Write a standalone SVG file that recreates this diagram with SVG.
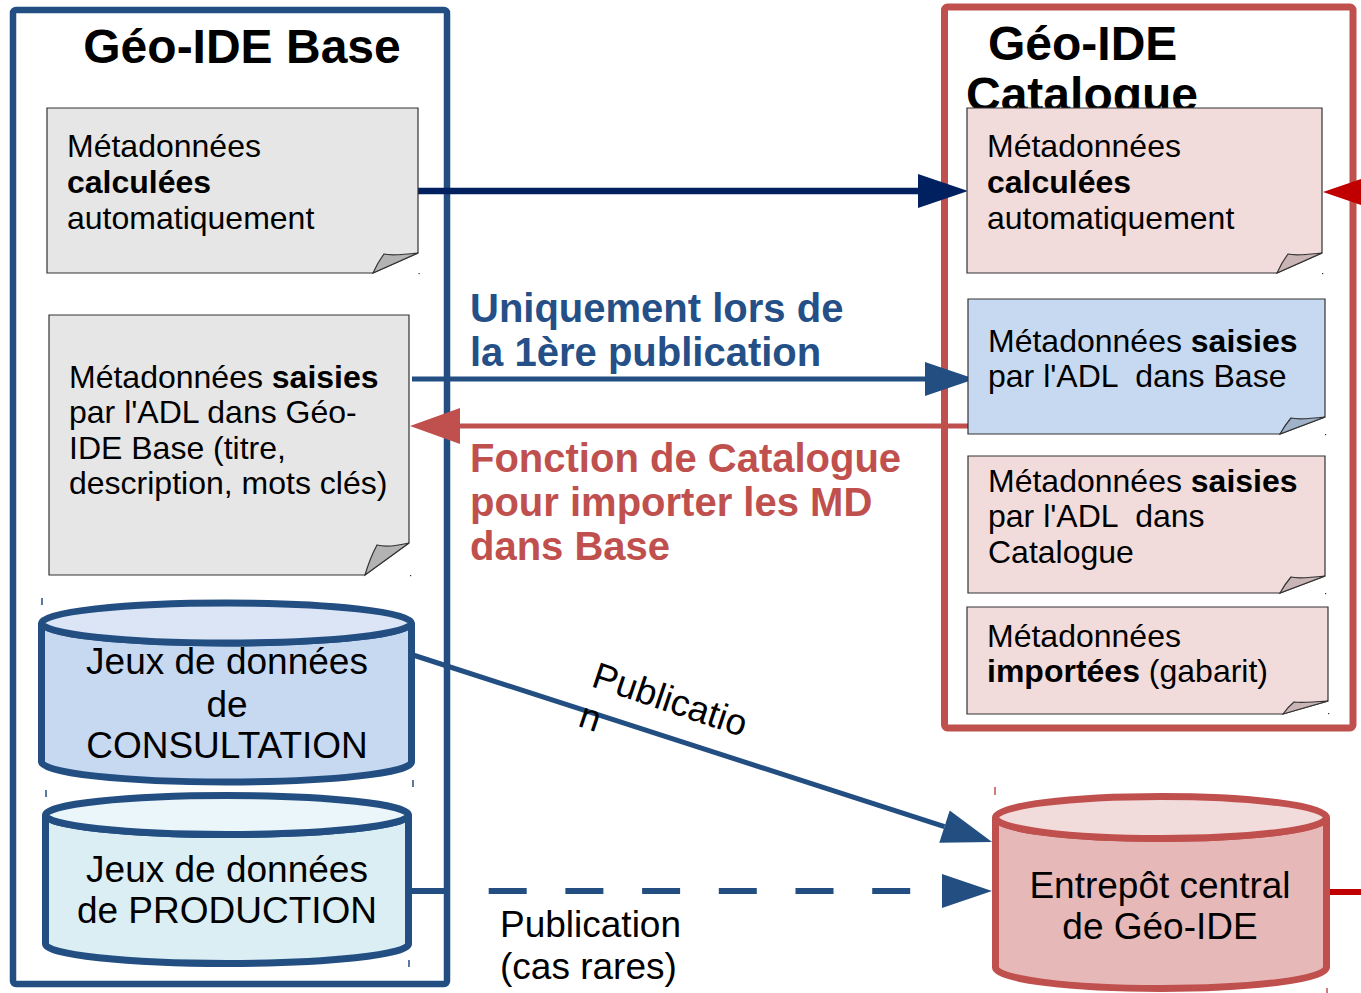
<svg xmlns="http://www.w3.org/2000/svg" width="1361" height="993" viewBox="0 0 1361 993">
<style>
text{font-family:"Liberation Sans",Arial,sans-serif;fill:#000}
.title{font-size:48px;font-weight:bold}
.nt{font-size:32px}
.b{font-weight:bold}
.cy{font-size:37px;text-anchor:middle}
.lbl{font-size:40px;font-weight:bold}
.note{stroke:#333;stroke-width:1.2}
.flap{stroke:#333;stroke-width:1.2}
.grey{fill:#e6e6e6}
.pink{fill:#f2dcdb}
.blue{fill:#c6d9f1}
.cb{stroke:#234e82;stroke-width:7}
.cr{stroke:#c0504d;stroke-width:7}
.tick{stroke-width:1.5}
</style>
<defs>
<marker id="hNavy" markerUnits="userSpaceOnUse" markerWidth="52" markerHeight="36" refX="0" refY="17" orient="auto" overflow="visible"><path d="M0,0 L50,17 L0,34 Z" fill="#002060"/></marker>
<marker id="hBlue" markerUnits="userSpaceOnUse" markerWidth="52" markerHeight="36" refX="0" refY="17" orient="auto" overflow="visible"><path d="M0,0 L50,17 L0,34 Z" fill="#234e82"/></marker>
<marker id="hRed" markerUnits="userSpaceOnUse" markerWidth="52" markerHeight="38" refX="0" refY="18" orient="auto" overflow="visible"><path d="M0,0 L50,18 L0,36 Z" fill="#c0504d"/></marker>
<marker id="hDark" markerUnits="userSpaceOnUse" markerWidth="52" markerHeight="36" refX="0" refY="17" orient="auto" overflow="visible"><path d="M0,0 L50,17 L0,34 Z" fill="#c00000"/></marker>
</defs>
<rect width="1361" height="993" fill="#fff"/>

<g id="container-base">
<rect x="13" y="10" width="434" height="974" rx="3" fill="none" stroke="#234e82" stroke-width="6.5"/>
<text class="title" x="242" y="63" text-anchor="middle">Géo-IDE Base</text>
</g>
<g id="container-catalogue">
<rect x="944.5" y="7" width="408.5" height="721" rx="3" fill="none" stroke="#c0504d" stroke-width="7"/>
<text class="title" x="988" y="60">Géo-IDE</text>
<text class="title" x="966" y="111">Catalogue</text>
</g>

<g id="connectors">
<line x1="418" y1="191" x2="918" y2="191" stroke="#002060" stroke-width="6.5" marker-end="url(#hNavy)"/>
<line x1="1400" y1="192" x2="1373" y2="192" stroke="#c00000" stroke-width="6" marker-end="url(#hDark)"/>
<line x1="412" y1="379" x2="925" y2="379" stroke="#234e82" stroke-width="5" marker-end="url(#hBlue)"/>
<line x1="968" y1="426" x2="460" y2="426" stroke="#c0504d" stroke-width="5" marker-end="url(#hRed)"/>
<line x1="413" y1="655" x2="944.5" y2="826.6" stroke="#234e82" stroke-width="5" marker-end="url(#hBlue)"/>
<line x1="412" y1="891" x2="942" y2="891" stroke="#234e82" stroke-width="6" stroke-dasharray="38 38.7" marker-end="url(#hBlue)"/>
<line x1="1328" y1="892" x2="1361" y2="892" stroke="#c00000" stroke-width="6"/>
</g>

<g id="note-base-calc">
<path class="note grey" d="M47,108 H418 V253 L373,273 H47 Z"/>
<path class="flap" fill="#b3b3b3" d="M373,273 Q378,262 384,254 Q392,256 418,253 Z"/>
<text class="nt" x="67" y="157">Métadonnées</text>
<text class="nt b" x="67" y="193">calculées</text>
<text class="nt" x="67" y="229">automatiquement</text>
</g>

<g id="note-base-saisies">
<path class="note grey" d="M49,315 H409 V543 L365,575 H49 Z"/>
<path class="flap" fill="#b3b3b3" d="M365,575 Q370,558 377,545 Q388,548 409,543 Z"/>
<text class="nt" x="69" y="388">Métadonnées <tspan class="b">saisies</tspan></text>
<text class="nt" x="69" y="423">par l'ADL dans Géo-</text>
<text class="nt" x="69" y="459">IDE Base (titre,</text>
<text class="nt" x="69" y="494">description, mots clés)</text>
</g>

<g id="note-cat-calc">
<path class="note pink" d="M967,108 H1322 V253 L1277,273 H967 Z"/>
<path class="flap" fill="#c9b5b5" d="M1277,273 Q1282,262 1288,254 Q1296,256 1322,253 Z"/>
<text class="nt" x="987" y="157">Métadonnées</text>
<text class="nt b" x="987" y="193">calculées</text>
<text class="nt" x="987" y="229">automatiquement</text>
</g>

<g id="note-cat-saisies-base">
<path class="note blue" d="M968,299 H1325 V417 L1280,434 H968 Z"/>
<path class="flap" fill="#9fb2c8" d="M1280,434 Q1285,425 1291,418 Q1299,420 1325,417 Z"/>
<text class="nt" x="988" y="352">Métadonnées <tspan class="b">saisies</tspan></text>
<text class="nt" x="988" y="387" style="white-space:pre">par l'ADL  dans Base</text>
</g>

<g id="note-cat-saisies-cat">
<path class="note pink" d="M968,456 H1325 V576 L1280,593 H968 Z"/>
<path class="flap" fill="#c9b5b5" d="M1280,593 Q1285,584 1291,577 Q1299,579 1325,576 Z"/>
<text class="nt" x="988" y="492">Métadonnées <tspan class="b">saisies</tspan></text>
<text class="nt" x="988" y="527" style="white-space:pre">par l'ADL  dans</text>
<text class="nt" x="988" y="563">Catalogue</text>
</g>

<g id="note-cat-importees">
<path class="note pink" d="M967,607 H1328 V701 L1283,714 H967 Z"/>
<path class="flap" fill="#c9b5b5" d="M1283,714 Q1288,707 1294,702 Q1302,703 1328,701 Z"/>
<text class="nt" x="987" y="647">Métadonnées</text>
<text class="nt" x="987" y="682"><tspan class="b">importées</tspan> (gabarit)</text>
</g>

<g id="db-consultation">
<path class="cb" fill="#c6d9f1" d="M41.5,623 V762 A185,20 0 0 0 411.5,762 V623 A185,20 0 0 1 41.5,623 Z"/>
<ellipse class="cb" cx="226.5" cy="623" rx="185" ry="20" fill="#dbe5f5"/>
<text class="cy" x="227" y="674">Jeux de données</text>
<text class="cy" x="227" y="717">de</text>
<text class="cy" x="227" y="758">CONSULTATION</text>
</g>

<g id="db-production">
<path class="cb" fill="#dbeef4" d="M45.5,815 V944 A181.5,19.5 0 0 0 408.5,944 V815 A181.5,19.5 0 0 1 45.5,815 Z"/>
<ellipse class="cb" cx="227" cy="815" rx="181.5" ry="19.5" fill="#ebf6fa"/>
<text class="cy" x="227" y="882">Jeux de données</text>
<text class="cy" x="227" y="923">de PRODUCTION</text>
</g>

<g id="db-entrepot">
<path class="cr" fill="#e6b9b8" d="M995.5,817.5 V967.5 A165.5,21 0 0 0 1326.5,967.5 V817.5 A165.5,21 0 0 1 995.5,817.5 Z"/>
<ellipse class="cr" cx="1161" cy="817.5" rx="165.5" ry="21" fill="#f2dcdb"/>
<text class="cy" x="1160" y="898">Entrepôt central</text>
<text class="cy" x="1160" y="939">de Géo-IDE</text>
</g>

<g id="labels">
<text class="lbl" x="470" y="322" style="fill:#254f87">Uniquement lors de</text>
<text class="lbl" x="470" y="366" style="fill:#254f87">la 1ère publication</text>
<text class="lbl" x="470" y="472" style="fill:#c0504d">Fonction de Catalogue</text>
<text class="lbl" x="470" y="516" style="fill:#c0504d">pour importer les MD</text>
<text class="lbl" x="470" y="560" style="fill:#c0504d">dans Base</text>
<g transform="translate(590,686) rotate(18.5)">
<text x="0" y="0" font-size="37">Publicatio</text>
<text x="0" y="42" font-size="37">n</text>
</g>
<text x="500" y="937" font-size="37">Publication</text>
<text x="500" y="979" font-size="37">(cas rares)</text>
</g>

<g id="handles">
<line class="tick" x1="42" y1="598" x2="42" y2="605" stroke="#234e82"/>
<line class="tick" x1="413" y1="780" x2="413" y2="787" stroke="#234e82"/>
<line class="tick" x1="46" y1="790" x2="46" y2="797" stroke="#234e82"/>
<line class="tick" x1="409" y1="960" x2="409" y2="967" stroke="#234e82"/>
<line class="tick" x1="995" y1="787" x2="995" y2="795" stroke="#c0504d"/>
<line class="tick" x1="1327" y1="988" x2="1327" y2="993" stroke="#c0504d"/>
<rect x="418.5" y="273" width="1.2" height="1.2" fill="#333"/>
<rect x="410" y="575" width="1.2" height="1.2" fill="#333"/>
<rect x="1322" y="273" width="1.2" height="1.2" fill="#333"/>
<rect x="1325" y="434" width="1.2" height="1.2" fill="#333"/>
<rect x="1325" y="593" width="1.2" height="1.2" fill="#333"/>
<rect x="1328" y="713" width="1.2" height="1.2" fill="#333"/>
</g>
</svg>
